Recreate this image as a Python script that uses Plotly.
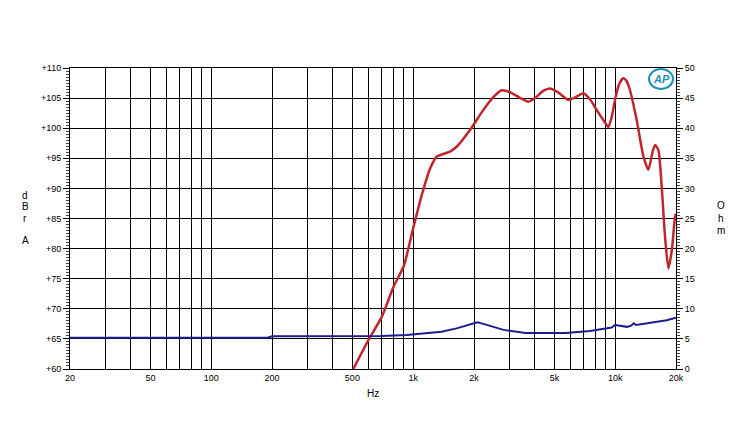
import plotly.graph_objects as go

# ---- data ----
freq_spl = [505, 600, 700, 800, 900, 1000, 1120, 1220, 1310, 1520, 1650, 1910, 2220, 2500, 2740,
            3010, 3400, 3720, 4010, 4400, 4750, 5200, 5860, 6400, 6950, 7500, 8100, 8800, 9240,
            9600, 9980, 10450, 10970, 11400, 11840, 12770, 13800, 14590, 15300, 15740, 16350,
            16990, 17650, 18340, 19080, 19780, 20000]
spl_db = [60.0, 64.8, 68.7, 73.7, 77.2, 83.4, 89.7, 93.5, 95.3, 96.1, 97.0, 99.7, 103.0, 105.2, 106.3,
          106.0, 105.0, 104.4, 105.0, 106.2, 106.6, 106.0, 104.7, 105.2, 105.8, 104.8, 103.0, 101.2, 100.2,
          101.8, 104.7, 107.3, 108.3, 107.8, 106.3, 101.4, 95.3, 93.1, 96.0, 97.2, 96.4,
          90.3, 82.0, 76.7, 79.8, 85.3, 85.8]

freq_imp = [20, 100, 190, 200, 500, 700, 930, 1380, 1640, 1900, 2080, 2224, 2500, 2800, 3600,
            5670, 7500, 9040, 9600, 9980, 11450, 12000, 12350, 12700, 15900, 18000, 20000]
imp_ohm = [5.2, 5.2, 5.2, 5.45, 5.45, 5.5, 5.65, 6.2, 6.75, 7.4, 7.75, 7.5, 7.0, 6.5, 6.0,
           6.0, 6.3, 6.75, 6.9, 7.3, 7.0, 7.2, 7.6, 7.3, 7.85, 8.1, 8.5]

x_grid = [20, 30, 40, 50, 60, 70, 80, 90, 100, 200, 300, 400, 500, 600, 700, 800, 900,
          1000, 2000, 3000, 4000, 5000, 6000, 7000, 8000, 9000, 10000, 20000]
x_labels = {20: "20", 50: "50", 100: "100", 200: "200", 500: "500", 1000: "1k",
            2000: "2k", 5000: "5k", 10000: "10k", 20000: "20k"}
y_left_vals = [60, 65, 70, 75, 80, 85, 90, 95, 100, 105, 110]
y_left_text = ["+60", "+65", "+70", "+75", "+80", "+85", "+90", "+95", "+100", "+105", "+110"]
y_right_vals = [0, 5, 10, 15, 20, 25, 30, 35, 40, 45, 50]

FONT = "Liberation Sans, Arial, sans-serif"

# plot area in page pixels (page has an 8px body margin)
PL, PR, PT, PB = 70, 676, 68, 369


def px(xp):
    return (xp - PL) / (PR - PL)


def py(yp):
    return (PB - yp) / (PB - PT)


def label(text, xp, yp, size=10, color="black"):
    return dict(text=text, xref="paper", yref="paper", x=px(xp), y=py(yp),
                xanchor="center", yanchor="middle", showarrow=False,
                font=dict(size=size, family=FONT, color=color))


fig = go.Figure()
fig.add_trace(go.Scatter(x=freq_imp, y=imp_ohm, yaxis="y2", mode="lines",
                         line=dict(color="#1c1c8e", width=2), showlegend=False))
fig.add_trace(go.Scatter(x=freq_spl, y=spl_db, mode="lines",
                         line=dict(color="#c0262b", width=2.5, shape="spline", smoothing=0.6),
                         showlegend=False))

annotations = []
for letter, yp in [("d", 195), ("B", 206), ("r", 218), ("A", 240)]:
    annotations.append(label(letter, 25, yp))
for letter, yp in [("O", 205), ("h", 218), ("m", 230)]:
    annotations.append(label(letter, 721, yp))
annotations.append(label("Hz", 373, 393))
annotations.append(label("<b><i>AP</i></b>", 661, 79, size=11, color="#1f8db5"))

fig.update_layout(
    width=746, height=436,
    margin=dict(l=PL - 8, r=754 - PR, t=PT - 8, b=444 - PB),
    paper_bgcolor="white", plot_bgcolor="white",
    font=dict(family=FONT, size=9, color="black"),
    xaxis=dict(type="log", range=[1.30103, 4.30103],
               tickvals=x_grid, ticktext=[x_labels.get(v, "") for v in x_grid],
               showgrid=True, gridcolor="black", gridwidth=1,
               showline=True, linecolor="black", linewidth=1, mirror=True,
               ticks="", zeroline=False),
    yaxis=dict(range=[60, 110], tickvals=y_left_vals, ticktext=y_left_text,
               showgrid=True, gridcolor="black", gridwidth=1,
               showline=True, linecolor="black", linewidth=1, mirror=True,
               ticks="outside", ticklen=6, tickcolor="black",
               minor=dict(dtick=0.5, ticks="outside", ticklen=3, tickcolor="#444", showgrid=False),
               zeroline=False),
    yaxis2=dict(range=[0, 50], tickvals=y_right_vals, overlaying="y", side="right",
                showgrid=False, showline=True, linecolor="black",
                ticks="outside", ticklen=6, tickcolor="black",
                minor=dict(dtick=0.5, ticks="outside", ticklen=3, tickcolor="#444", showgrid=False),
                zeroline=False),
    shapes=[dict(type="circle", xref="paper", yref="paper",
                 x0=px(649), x1=px(673), y0=py(89), y1=py(69),
                 fillcolor="rgba(0,0,0,0)", line=dict(color="#1f8db5", width=2))],
    annotations=annotations,
)

fig.write_html("out.html")
